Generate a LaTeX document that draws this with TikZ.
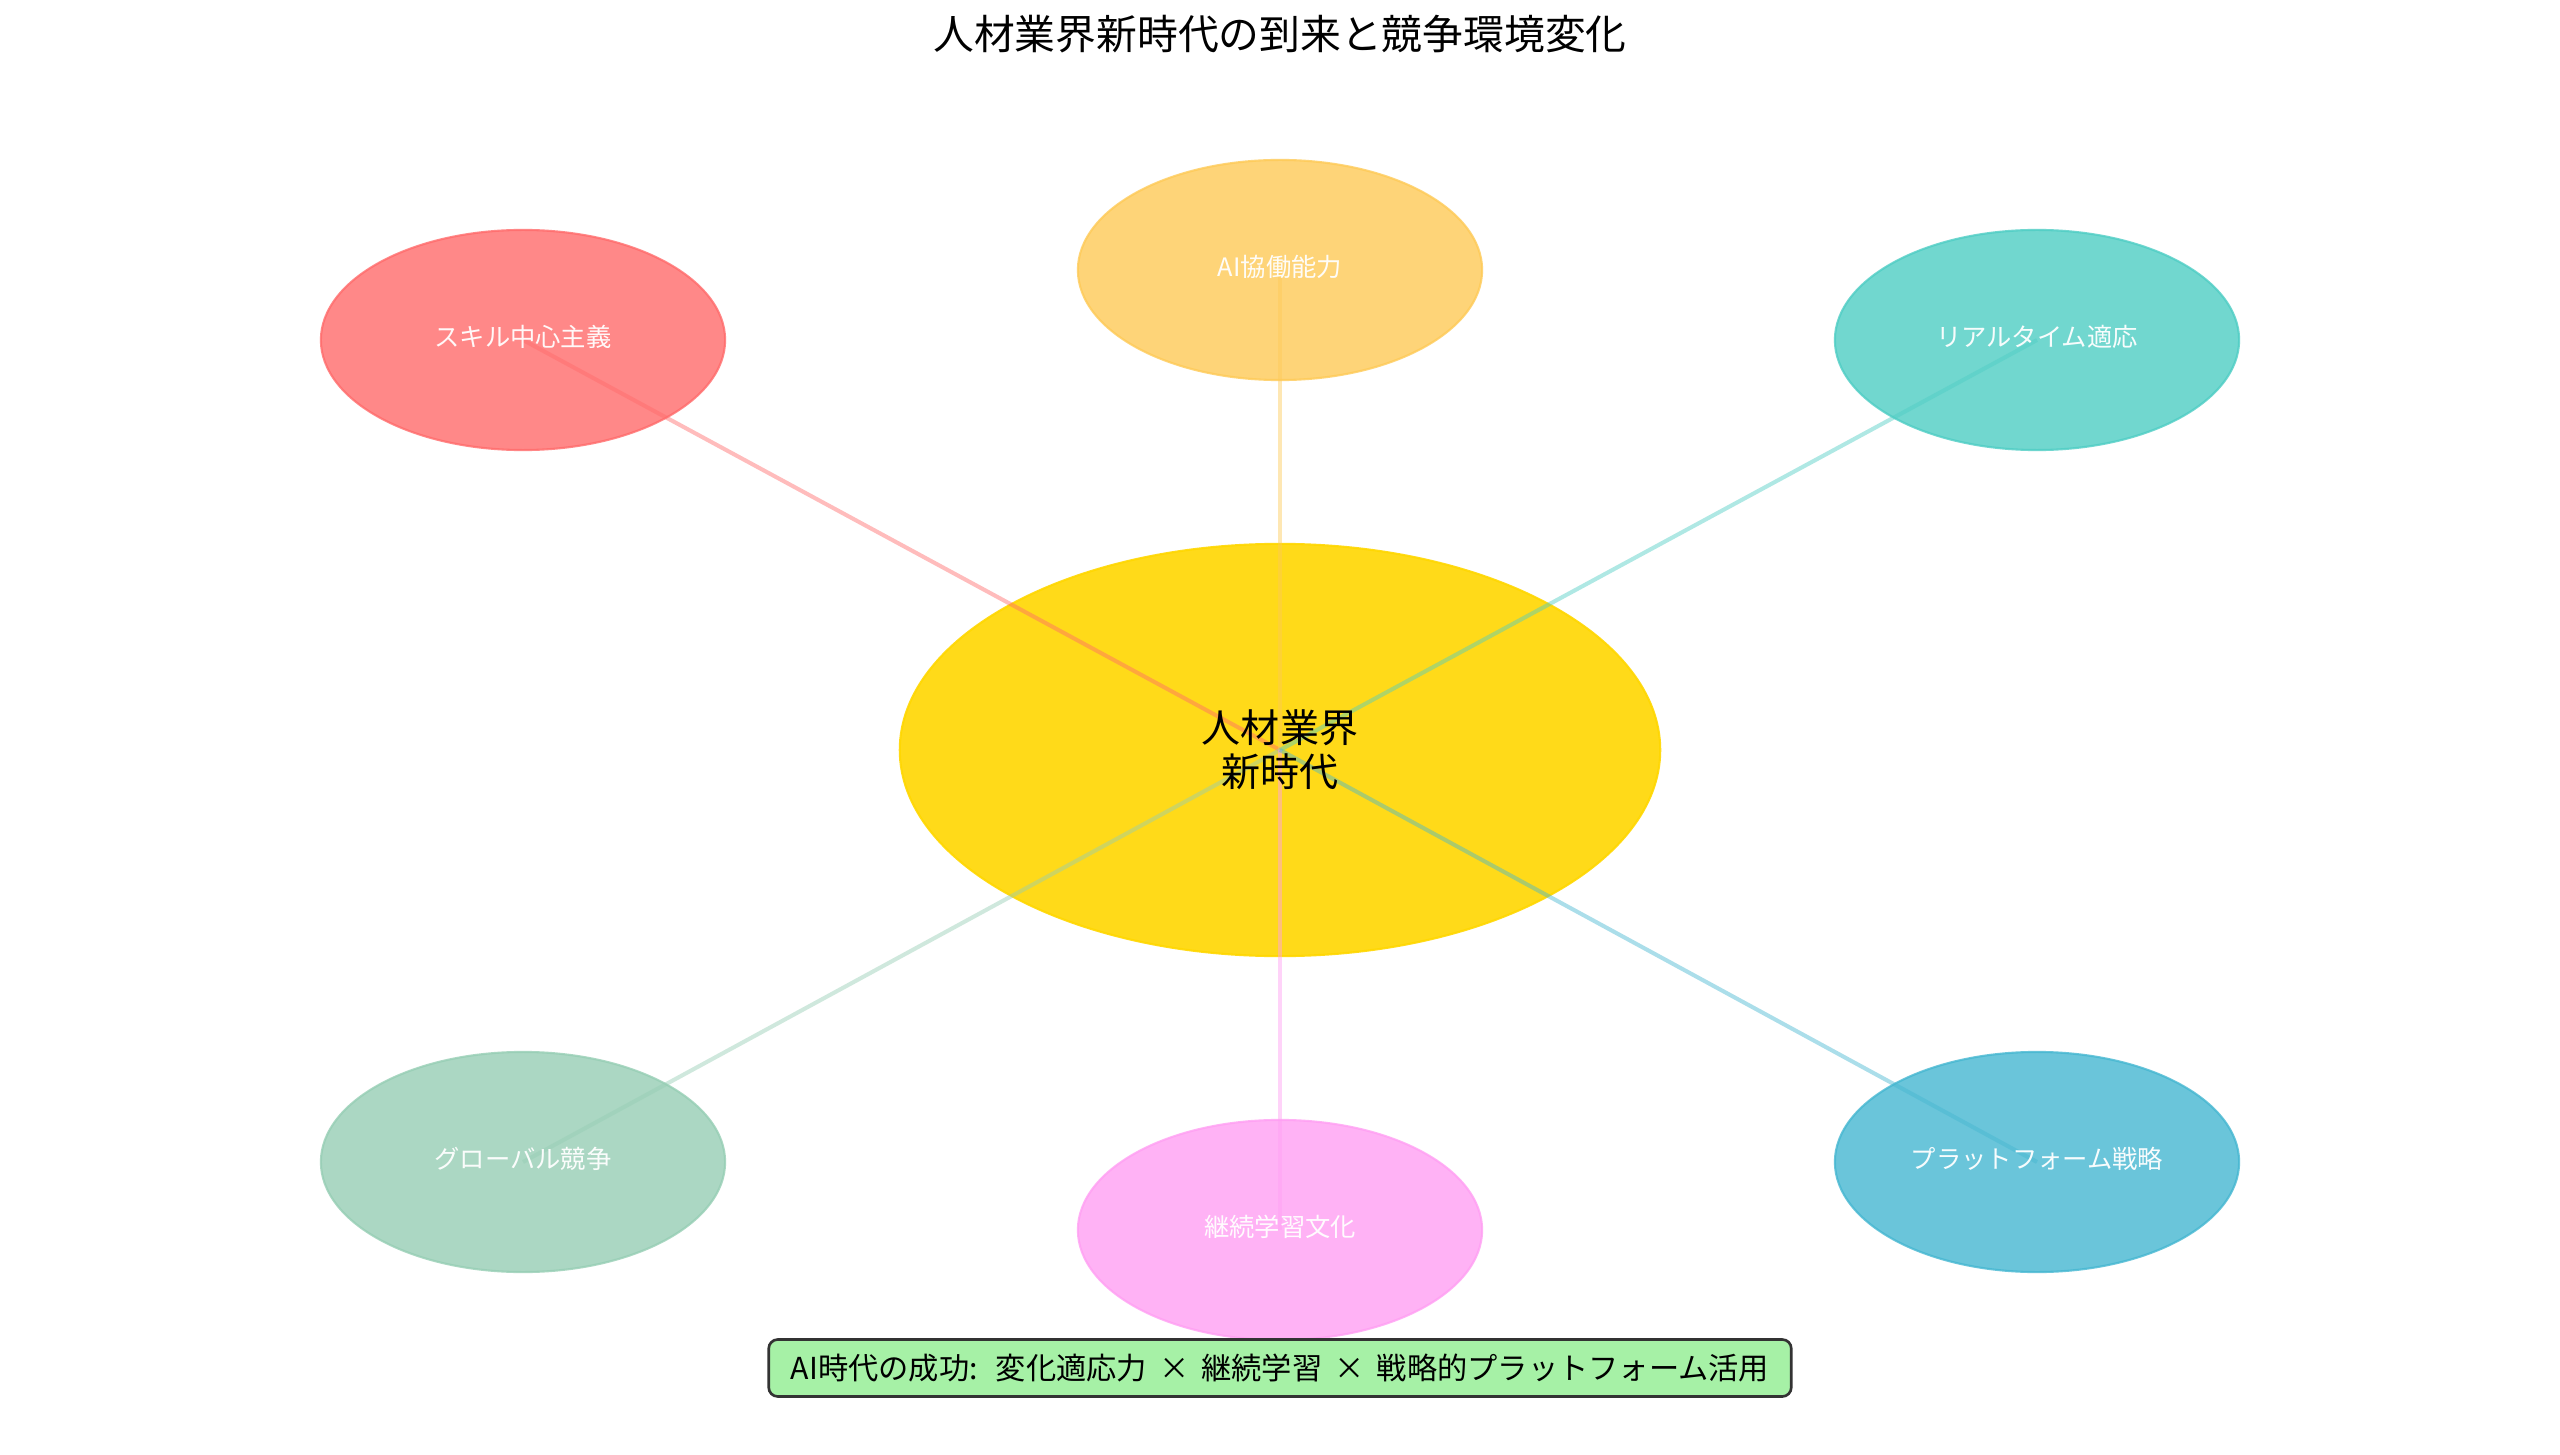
\documentclass[tikz,border=0pt]{standalone}
\usepackage{fontspec}
\setmainfont{Noto Sans CJK JP}
\usetikzlibrary{shapes.geometric}
\definecolor{cred}{HTML}{FF6B6B}
\definecolor{corange}{HTML}{FECA57}
\definecolor{cteal}{HTML}{4ECDC4}
\definecolor{cgreen}{HTML}{96CEB4}
\definecolor{cpink}{HTML}{FF9FF3}
\definecolor{cblue}{HTML}{45B7D1}
\definecolor{cgold}{HTML}{FFD700}
\definecolor{clgreen}{HTML}{90EE90}
\definecolor{cedge}{HTML}{333333}
\tikzset{
  outerell/.style={ellipse, inner sep=0pt, minimum width=4.04cm, minimum height=2.2cm,
    fill=#1, draw=#1, fill opacity=0.8, draw opacity=0.8, line width=0.6pt},
  centerell/.style={ellipse, inner sep=0pt, minimum width=7.6cm, minimum height=4.12cm,
    fill=cgold, draw=cgold, fill opacity=0.9, draw opacity=0.9, line width=0.6pt},
  link/.style={draw=#1, opacity=0.45, line width=1.15pt},
  outertext/.style={text=white, text opacity=0.95, font=\fontsize{7.2pt}{8.6pt}\selectfont, inner sep=0pt, yshift=0.03cm},
  centertext/.style={text=black, align=center, font=\fontsize{11.1pt}{12.4pt}\selectfont, inner sep=0pt},
  titletext/.style={text=black, font=\fontsize{11.6pt}{14pt}\selectfont, inner sep=0pt},
  notebox/.style={draw=cedge, line width=0.75pt, rounded corners=2.6pt,
    fill=clgreen, fill opacity=0.8, text opacity=1, text=black,
    minimum width=10.22cm, minimum height=0.57cm, inner sep=0pt,
    font=\fontsize{8.6pt}{10pt}\selectfont}
}
\newcommand{\mytimes}{\hspace{0.4em}×\hspace{0.4em}}
\begin{document}
\begin{tikzpicture}[x=0.01cm, y=-0.01cm]
\useasboundingbox (0,0) rectangle (2560,1455);
\fill[white] (0,0) rectangle (2560,1455);
% title
\node[titletext] (title) at (1280,34) {人材業界新時代の到来と競争環境変化};
% ellipses
\node[centerell] (c) at (1280,750) {};
\node[outerell=cred] (n1) at (523,340) {};
\node[outerell=corange] (n2) at (1280,270) {};
\node[outerell=cteal] (n3) at (2037,340) {};
\node[outerell=cgreen] (n4) at (523,1162) {};
\node[outerell=cpink] (n5) at (1280,1230) {};
\node[outerell=cblue] (n6) at (2037,1162) {};
% links
\draw[link=cred] (c.center) -- (n1.center);
\draw[link=corange] (c.center) -- (n2.center);
\draw[link=cteal] (c.center) -- (n3.center);
\draw[link=cgreen] (c.center) -- (n4.center);
\draw[link=cpink] (c.center) -- (n5.center);
\draw[link=cblue] (c.center) -- (n6.center);
% labels
\node[centertext] (ct) at (c.center) {人材業界\\新時代};
\node[outertext] (t1) at (n1.center) {スキル中心主義};
\node[outertext] (t2) at (n2.center) {AI協働能力};
\node[outertext] (t3) at (n3.center) {リアルタイム適応};
\node[outertext] (t4) at (n4.center) {グローバル競争};
\node[outertext] (t5) at (n5.center) {継続学習文化};
\node[outertext] (t6) at (n6.center) {プラットフォーム戦略};
% bottom note
\node[notebox] (note) at (1280,1368) {AI時代の成功:\hspace{0.6em}変化適応力\mytimes 継続学習\mytimes 戦略的プラットフォーム活用};
\end{tikzpicture}
\end{document}
